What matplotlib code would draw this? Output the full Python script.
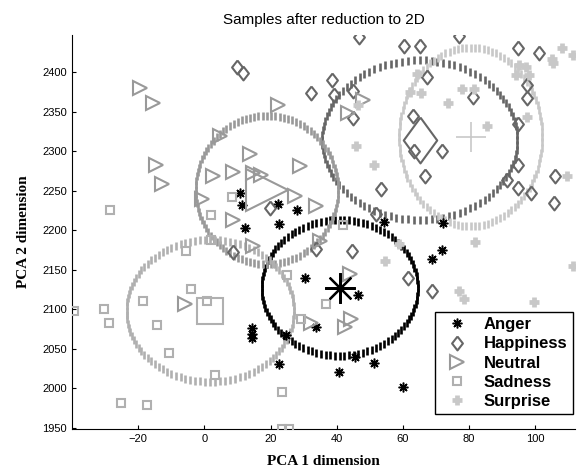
import numpy as np
import matplotlib
matplotlib.use("Agg")
import matplotlib.pyplot as plt

# ---------------- data ----------------
classes = ["Anger", "Happiness", "Neutral", "Sadness", "Surprise"]

anger_x = [10.9, 11.5, 12.2, 22.4, 28.0, 22.5, 54.4, 30.3, 46.4, 33.8, 14.4, 14.5, 14.3,
           24.8, 22.5, 45.4, 51.4, 40.6, 60.0, 68.8, 71.7, 72.0]
anger_y = [2247, 2232, 2203, 2233, 2225, 2208, 2210, 2140, 2118, 2078, 2076, 2069, 2064,
           2067, 2031, 2040, 2032, 2021, 2001, 2164, 2175, 2209]

happy_x = [9.9, 11.7, 46.7, 60.2, 65.2, 76.8, 38.5, 32.3, 39.3, 44.9, 44.9, 67.2, 81.3, 63.0,
           63.3, 71.8, 66.8, 53.4, 94.7, 101.0, 97.5, 97.5, 94.9, 94.9, 91.5, 94.7, 98.7,
           106.0, 105.7, 19.7, 51.9, 44.5, 33.8, 61.6, 68.7, 8.7]
happy_y = [2407, 2399, 2444, 2433, 2433, 2446, 2390, 2374, 2371, 2376, 2342, 2394, 2369, 2344,
           2300, 2300, 2268, 2252, 2430, 2424, 2384, 2367, 2335, 2283, 2264, 2254, 2247,
           2268, 2234, 2228, 2220, 2174, 2176, 2140, 2123, 2173]

neutral_x = [-19.4, -15.4, 4.7, -14.6, -12.9, 2.7, 8.6, -0.8, 8.8, 13.9, 22.2, 14.7, 17.2,
             28.8, 27.3, 33.8, 43.4, 47.9, 14.7, 34.8, 43.9, 44.4, 42.4, 32.3, -5.9]
neutral_y = [2380, 2361, 2319, 2283, 2259, 2269, 2273, 2240, 2213, 2296, 2358, 2272, 2270,
             2281, 2243, 2230, 2348, 2365, 2180, 2186, 2144, 2088, 2077, 2083, 2106]

sad_x = [-28.6, 8.3, 2.0, 2.0, -5.5, -4.1, -18.4, 0.7, -30.3, -28.8, -14.4, -10.7, 3.2,
         -25.2, -17.2, -39.5, 23.6, 23.5, 25.5, 25.1, 29.3, 36.8, 41.9]
sad_y = [2225, 2242, 2219, 2188, 2174, 2126, 2110, 2110, 2100, 2083, 2080, 2044, 2017,
         1981, 1979, 2098, 1995, 1949, 1949, 2143, 2087, 2106, 2207]

surp_x = [108.1, 111.5, 105.1, 105.4, 95.1, 97.1, 94.1, 98.1, 64.2, 62.2, 65.4, 73.5, 77.8,
          81.5, 85.3, 97.5, 109.5, 46.4, 45.9, 51.4, 58.7, 54.7, 81.8, 77.0, 78.6, 99.7, 111.4]
surp_y = [2430, 2422, 2417, 2412, 2409, 2407, 2396, 2396, 2398, 2375, 2374, 2361, 2379,
          2379, 2332, 2343, 2269, 2359, 2306, 2283, 2183, 2161, 2185, 2123, 2113, 2109, 2155]

# class centres and ellipse radii (x, y, rx, ry)
centre_x = [40.9, 65.1, 18.9, 1.8, 80.5]
centre_y = [2127, 2314, 2251, 2098, 2318]
radius_x = [23.6, 29.5, 21.5, 25.3, 21.6]
radius_y = [86, 101, 94, 90, 113]

# ---------------- style ----------------
colors = ["#000000", "#666666", "#999999", "#b0b0b0", "#c8c8c8"]
diamond = [(0, 1), (0.78, 0), (0, -1), (-0.78, 0), (0, 1)]
big_diamond = [(0, 1), (0.73, 0), (0, -1), (-0.73, 0), (0, 1)]
asterisk = (8, 2, 0)

fig = plt.figure(figsize=(5.82, 4.71), dpi=100)
ax = fig.add_axes([0.1237, 0.0885, 0.8643, 0.8372])

sans = "Liberation Sans"
serif = "Liberation Serif"

# ellipses (drawn as dense '|' markers)
theta = np.linspace(0, 2 * np.pi, 104, endpoint=False)
for cx, cy, rx, ry, c in zip(centre_x, centre_y, radius_x, radius_y, colors):
    ax.plot(cx + rx * np.cos(theta), cy + ry * np.sin(theta), linestyle="none",
            marker="|", markersize=5.5, markeredgewidth=1.9, color=c, zorder=2)

# sample points
h_anger, = ax.plot(anger_x, anger_y, linestyle="none", marker=asterisk, markersize=7,
                   markeredgewidth=1.1, color=colors[0], zorder=4, label=classes[0])
h_happy, = ax.plot(happy_x, happy_y, linestyle="none", marker=diamond, markersize=10,
                   markerfacecolor="none", markeredgewidth=1.5, color=colors[1], zorder=4,
                   label=classes[1])
h_neut, = ax.plot(neutral_x, neutral_y, linestyle="none", marker=">", markersize=9.5,
                  markerfacecolor="none", markeredgewidth=1.5, color=colors[2], zorder=4,
                  label=classes[2])
h_sad, = ax.plot(sad_x, sad_y, linestyle="none", marker="s", markersize=6.3,
                 markerfacecolor="none", markeredgewidth=1.5, color=colors[3], zorder=4,
                 label=classes[3])
h_surp, = ax.plot(surp_x, surp_y, linestyle="none", marker="+", markersize=7,
                  markeredgewidth=3.4, color=colors[4], zorder=4, label=classes[4])

# big centre markers
ax.plot(centre_x[0], centre_y[0], linestyle="none", marker=asterisk, markersize=22,
        markeredgewidth=1.6, color=colors[0], zorder=5)
ax.plot(centre_x[1], centre_y[1], linestyle="none", marker=big_diamond, markersize=33,
        markerfacecolor="none", markeredgewidth=1.5, color=colors[1], zorder=5)
ax.plot(centre_x[2], centre_y[2], linestyle="none", marker=">", markersize=30,
        markerfacecolor="none", markeredgewidth=1.5, color=colors[2], zorder=5)
ax.plot(centre_x[3], centre_y[3], linestyle="none", marker="s", markersize=19,
        markerfacecolor="none", markeredgewidth=1.5, color=colors[3], zorder=5)
ax.plot(centre_x[4], centre_y[4], linestyle="none", marker="+", markersize=22,
        markeredgewidth=1.2, color=colors[4], zorder=5)

# axes
ax.set_xlim(-40, 112)
ax.set_ylim(1948, 2447)
ax.set_xticks([-20, 0, 20, 40, 60, 80, 100])
ax.set_yticks([1950, 2000, 2050, 2100, 2150, 2200, 2250, 2300, 2350, 2400])
ax.tick_params(direction="in", length=3, width=0.8, labelsize=8)
for lab in ax.get_xticklabels() + ax.get_yticklabels():
    lab.set_family(sans)
ax.spines["top"].set_visible(False)
ax.spines["right"].set_visible(False)
for s in ("left", "bottom"):
    ax.spines[s].set_linewidth(0.8)

ax.set_title("Samples after reduction to 2D", family=sans, fontsize=11, pad=8)
ax.set_xlabel("PCA 1 dimension", family=serif, fontweight="bold", fontsize=11, labelpad=8)
ax.set_ylabel("PCA 2 dimension", family=serif, fontweight="bold", fontsize=11, labelpad=9)

leg = ax.legend(handles=[h_anger, h_happy, h_neut, h_sad, h_surp], loc="lower right",
                bbox_to_anchor=(0.995, 0.039), borderaxespad=0, fancybox=False,
                framealpha=1, edgecolor="black", prop={"family": sans, "weight": "bold",
                                                       "size": 12},
                handletextpad=0.55, labelspacing=0.25, borderpad=0.3, handlelength=2.1)
leg.get_frame().set_linewidth(1.0)
leg.set_zorder(10)

fig.savefig("out.png", dpi=100)
